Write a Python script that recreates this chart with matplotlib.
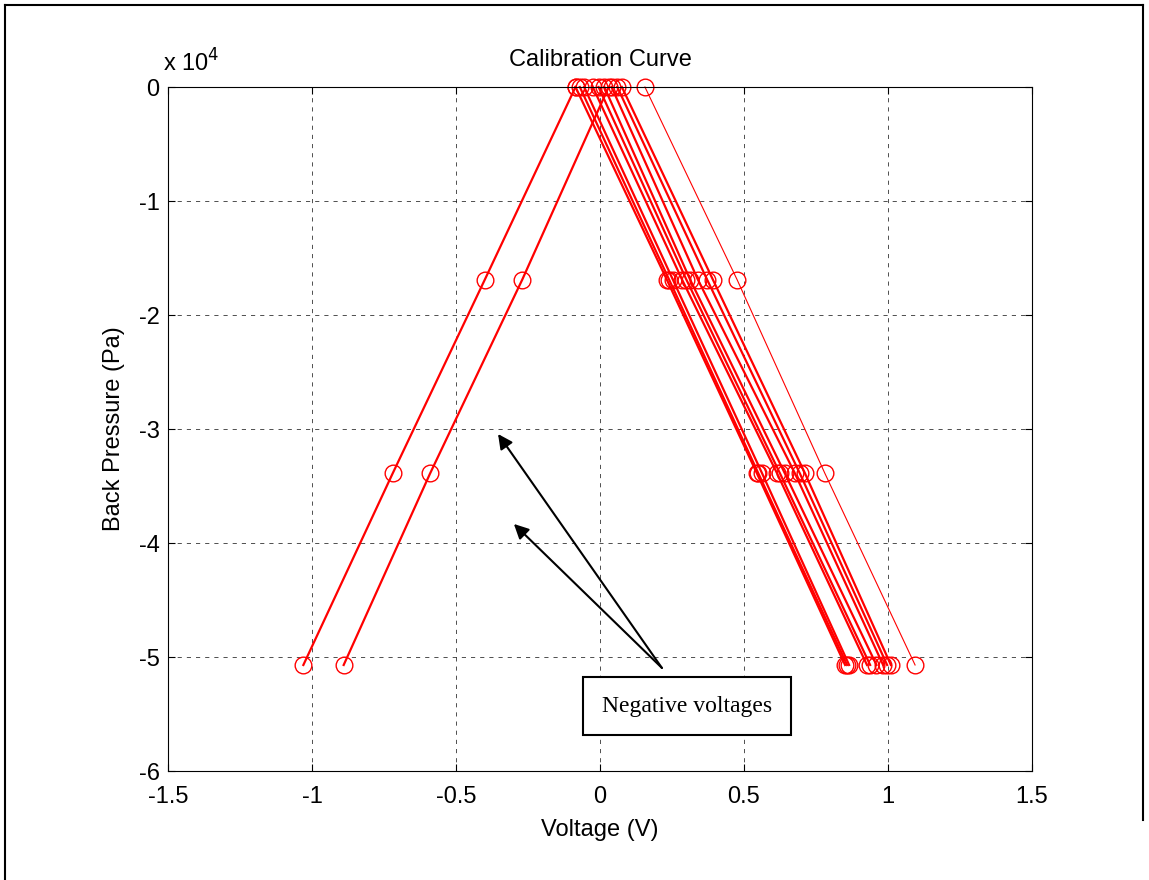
import matplotlib
matplotlib.use("Agg")
import matplotlib.pyplot as plt
from matplotlib.lines import Line2D

plt.rcParams['font.family'] = ['Liberation Sans', 'DejaVu Sans']

# Back pressure levels applied in every calibration run (Pa)
pressure = [0, -16900, -33900, -50700]

# Voltage readings per run (V), one list per run, same order as pressure
neg_runs = [
    [-0.085, -0.400, -0.720, -1.030],
    [0.030, -0.270, -0.590, -0.890],
]
pos_runs = [
    [-0.085, 0.232, 0.545, 0.851],
    [-0.070, 0.240, 0.550, 0.858],
    [-0.055, 0.253, 0.563, 0.865],
    [-0.025, 0.285, 0.615, 0.927],
    [-0.005, 0.300, 0.625, 0.938],
    [0.015, 0.313, 0.642, 0.960],
    [0.040, 0.340, 0.677, 0.983],
    [0.060, 0.372, 0.694, 0.997],
    [0.076, 0.392, 0.712, 1.010],
]
thin_runs = [
    [0.156, 0.476, 0.781, 1.094],
]

xticks = [-1.5, -1, -0.5, 0, 0.5, 1, 1.5]
xticklabels = ['-1.5', '-1', '-0.5', '0', '0.5', '1', '1.5']
yticks = [0, -10000, -20000, -30000, -40000, -50000, -60000]
yticklabels = ['0', '-1', '-2', '-3', '-4', '-5', '-6']

FS = 17
W, H = 1149, 880
fig = plt.figure(figsize=(W / 100, H / 100), dpi=100)
ax = fig.add_axes([168 / W, 1 - 771 / H, (1032 - 168) / W, (771 - 87) / H])

for run in neg_runs + pos_runs:
    ax.plot(run, pressure, color='red', lw=1.6, marker='o', ms=12,
            mfc='none', mec='red', mew=1.0, clip_on=False)
for run in thin_runs:
    ax.plot(run, pressure, color='red', lw=0.8, marker='o', ms=12,
            mfc='none', mec='red', mew=1.0, clip_on=False)

ax.set_xlim(-1.5, 1.5)
ax.set_ylim(-60000, 0)
ax.set_xticks(xticks)
ax.set_xticklabels(xticklabels)
ax.set_yticks(yticks)
ax.set_yticklabels(yticklabels)
ax.tick_params(direction='in', labelsize=FS, length=5, top=True, right=True,
               width=0.8)
ax.tick_params(axis='x', pad=11)
ax.tick_params(axis='y', pad=6)
ax.grid(True, color='black', linestyle=(0, (5, 6)), lw=0.6, alpha=0.8)
for s in ax.spines.values():
    s.set_linewidth(0.8)

ax.set_xlabel('Voltage (V)', fontsize=FS, labelpad=8)
ax.set_ylabel('Back Pressure (Pa)', fontsize=FS, labelpad=10)
ax.set_title('Calibration Curve', fontsize=FS, pad=15)
ax.text(-0.006, 1.015, r'x 10$^{4}$', transform=ax.transAxes, fontsize=FS,
        ha='left', va='bottom')

# Callout pointing at the runs with negative voltage
ann_font = dict(family=['Liberation Serif', 'DejaVu Serif'], size=17)
ax.text(0.302, -54300, 'Negative voltages', ha='center', va='center',
        fontdict=ann_font,
        bbox=dict(boxstyle='square,pad=0.8', fc='white', ec='black', lw=1.5))
for tip in [(-0.354, -30440), (-0.299, -38330)]:
    ax.annotate('', xy=tip, xytext=(0.215, -50960),
                arrowprops=dict(arrowstyle='-|>', color='black', lw=1.5,
                                mutation_scale=22, shrinkA=0, shrinkB=0))

# Outer frame of the figure
fig.add_artist(Line2D([5 / W, 5 / W], [0, 1 - 5 / H], color='black', lw=1.5))
fig.add_artist(Line2D([5 / W, 1143 / W], [1 - 5 / H, 1 - 5 / H], color='black', lw=1.5))
fig.add_artist(Line2D([1143 / W, 1143 / W], [1 - 5 / H, 1 - 820 / H], color='black', lw=1.5))

fig.savefig('out.png', dpi=100)
